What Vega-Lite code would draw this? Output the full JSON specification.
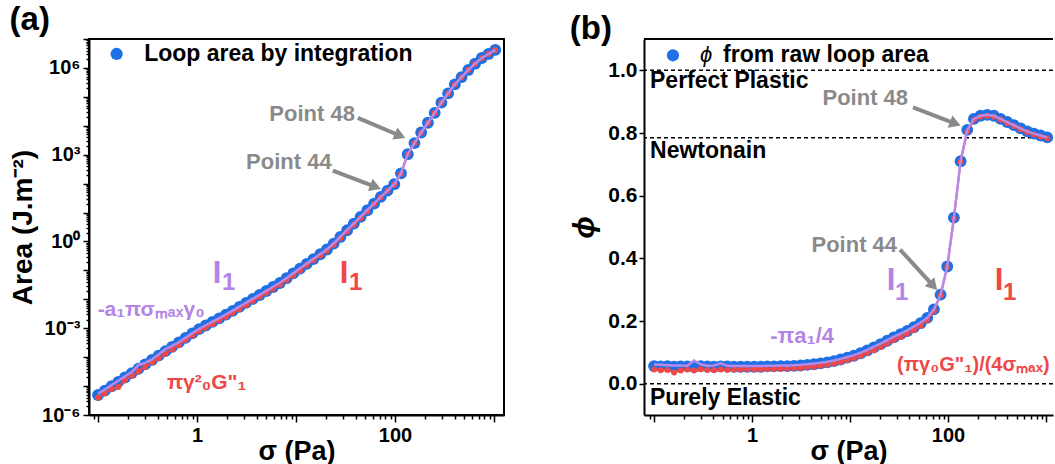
{
 "$schema": "https://vega.github.io/schema/vega-lite/v6.json",
 "padding": {"left": 8, "top": 3, "right": 0, "bottom": 0},
 "background": "white",
 "spacing": 64,
 "config": {
  "font": "Liberation Sans",
  "view": {"stroke": "black", "strokeWidth": 2},
  "axis": {"grid": false, "domainColor": "black", "domainWidth": 2, "tickColor": "black", "tickWidth": 1.5, "labelFontSize": 20, "labelFontWeight": "bold", "labelColor": "black", "titleFontSize": 28, "titleFontWeight": "bold", "titleColor": "black", "labelOverlap": false, "labelFlush": false, "labelBound": false},
  "title": {"fontSize": 33, "fontWeight": "bold", "color": "black", "anchor": "start", "frame": "bounds", "offset": -8}
 },
 "datasets": {
  "d": [
   {"s":0.100,"A":4.90e-6,"Ag":3.98e-6,"Af":5.37e-6,"p":0.056,"pg":0.045,"pf":0.061},
   {"s":0.117,"A":6.95e-6,"Ag":5.65e-6,"Af":7.62e-6,"p":0.055,"pg":0.043,"pf":0.060},
   {"s":0.137,"A":9.84e-6,"Ag":8.00e-6,"Af":1.08e-5,"p":0.056,"pg":0.044,"pf":0.059},
   {"s":0.160,"A":1.40e-5,"Ag":9.24e-6,"Af":1.53e-5,"p":0.054,"pg":0.036,"pf":0.058},
   {"s":0.187,"A":1.98e-5,"Ag":1.61e-5,"Af":2.17e-5,"p":0.055,"pg":0.042,"pf":0.058},
   {"s":0.219,"A":2.81e-5,"Ag":2.28e-5,"Af":3.08e-5,"p":0.055,"pg":0.045,"pf":0.057},
   {"s":0.256,"A":3.98e-5,"Ag":3.24e-5,"Af":5.37e-5,"p":0.054,"pg":0.042,"pf":0.074},
   {"s":0.299,"A":5.65e-5,"Ag":4.59e-5,"Af":6.34e-5,"p":0.056,"pg":0.046,"pf":0.062},
   {"s":0.350,"A":8.00e-5,"Ag":6.50e-5,"Af":8.38e-5,"p":0.055,"pg":0.044,"pf":0.057},
   {"s":0.409,"A":1.135e-4,"Ag":9.23e-5,"Af":1.244e-4,"p":0.054,"pg":0.043,"pf":0.058},
   {"s":0.479,"A":1.61e-4,"Ag":1.31e-4,"Af":1.89e-4,"p":0.055,"pg":0.045,"pf":0.065},
   {"s":0.560,"A":2.28e-4,"Ag":1.85e-4,"Af":2.44e-4,"p":0.055,"pg":0.044,"pf":0.057},
   {"s":0.655,"A":3.24e-4,"Ag":2.63e-4,"Af":3.31e-4,"p":0.054,"pg":0.045,"pf":0.056},
   {"s":0.766,"A":4.63e-4,"Ag":3.94e-4,"Af":4.74e-4,"p":0.054,"pg":0.045,"pf":0.056},
   {"s":0.895,"A":6.62e-4,"Ag":5.63e-4,"Af":6.77e-4,"p":0.054,"pg":0.046,"pf":0.056},
   {"s":1.047,"A":9.27e-4,"Ag":7.89e-4,"Af":9.48e-4,"p":0.054,"pg":0.046,"pf":0.056},
   {"s":1.225,"A":1.24e-3,"Ag":1.06e-3,"Af":1.27e-3,"p":0.054,"pg":0.046,"pf":0.056},
   {"s":1.432,"A":1.65e-3,"Ag":1.40e-3,"Af":1.69e-3,"p":0.055,"pg":0.047,"pf":0.057},
   {"s":1.675,"A":2.20e-3,"Ag":1.87e-3,"Af":2.25e-3,"p":0.055,"pg":0.047,"pf":0.057},
   {"s":1.959,"A":2.94e-3,"Ag":2.50e-3,"Af":3.01e-3,"p":0.056,"pg":0.048,"pf":0.058},
   {"s":2.291,"A":3.99e-3,"Ag":3.40e-3,"Af":4.08e-3,"p":0.056,"pg":0.048,"pf":0.058},
   {"s":2.679,"A":5.47e-3,"Ag":4.65e-3,"Af":5.60e-3,"p":0.057,"pg":0.049,"pf":0.059},
   {"s":3.133,"A":7.52e-3,"Ag":6.40e-3,"Af":7.69e-3,"p":0.058,"pg":0.050,"pf":0.060},
   {"s":3.664,"A":1.03e-2,"Ag":8.97e-3,"Af":1.054e-2,"p":0.060,"pg":0.052,"pf":0.062},
   {"s":4.285,"A":1.41e-2,"Ag":1.23e-2,"Af":1.44e-2,"p":0.062,"pg":0.054,"pf":0.064},
   {"s":5.012,"A":1.94e-2,"Ag":1.69e-2,"Af":1.98e-2,"p":0.065,"pg":0.057,"pf":0.067},
   {"s":5.861,"A":2.66e-2,"Ag":2.32e-2,"Af":2.72e-2,"p":0.068,"pg":0.060,"pf":0.070},
   {"s":6.855,"A":3.67e-2,"Ag":3.20e-2,"Af":3.75e-2,"p":0.072,"pg":0.064,"pf":0.074},
   {"s":8.017,"A":5.37e-2,"Ag":4.68e-2,"Af":5.49e-2,"p":0.077,"pg":0.069,"pf":0.079},
   {"s":9.376,"A":7.85e-2,"Ag":6.84e-2,"Af":8.03e-2,"p":0.083,"pg":0.075,"pf":0.085},
   {"s":10.96,"A":0.115,"Ag":0.100,"Af":0.118,"p":0.089,"pg":0.081,"pf":0.091},
   {"s":12.82,"A":0.168,"Ag":0.153,"Af":0.172,"p":0.097,"pg":0.089,"pf":0.099},
   {"s":15.00,"A":0.246,"Ag":0.224,"Af":0.252,"p":0.106,"pg":0.098,"pf":0.108},
   {"s":17.54,"A":0.361,"Ag":0.329,"Af":0.369,"p":0.116,"pg":0.107,"pf":0.118},
   {"s":20.51,"A":0.527,"Ag":0.481,"Af":0.539,"p":0.126,"pg":0.117,"pf":0.128},
   {"s":23.99,"A":0.843,"Ag":0.769,"Af":0.862,"p":0.137,"pg":0.128,"pf":0.139},
   {"s":28.05,"A":1.432,"Ag":1.306,"Af":1.465,"p":0.148,"pg":0.139,"pf":0.150},
   {"s":32.81,"A":2.438,"Ag":2.22,"Af":2.494,"p":0.158,"pg":0.149,"pf":0.160},
   {"s":38.37,"A":4.14,"Ag":3.78,"Af":4.235,"p":0.168,"pg":0.159,"pf":0.170},
   {"s":44.87,"A":7.047,"Ag":6.43,"Af":7.21,"p":0.180,"pg":0.171,"pf":0.182},
   {"s":52.48,"A":12.0,"Ag":10.9,"Af":12.3,"p":0.193,"pg":0.185,"pf":0.195},
   {"s":61.38,"A":20.4,"Ag":19.9,"Af":20.4,"p":0.210,"pg":0.203,"pf":0.210},
   {"s":71.78,"A":34.7,"Ag":33.9,"Af":34.7,"p":0.237,"pg":0.232,"pf":0.237},
   {"s":83.95,"A":57.5,"Ag":56.2,"Af":57.5,"p":0.284,"pg":0.282,"pf":0.284},
   {"s":98.17,"A":95.5,"Ag":93.3,"Af":95.5,"p":0.374,"pg":0.372,"pf":0.374},
   {"s":114.8,"A":226,"Ag":221,"Af":226,"p":0.530,"pg":0.528,"pf":0.530},
   {"s":134.3,"A":1040,"Ag":1016,"Af":1040,"p":0.710,"pg":0.708,"pf":0.710},
   {"s":157.0,"A":2512,"Ag":2490,"Af":2512,"p":0.810,"pg":0.805,"pf":0.810},
   {"s":183.7,"A":5848,"Ag":5790,"Af":5848,"p":0.845,"pg":0.842,"pf":0.845},
   {"s":214.8,"A":12680,"Ag":12550,"Af":12680,"p":0.855,"pg":0.852,"pf":0.855},
   {"s":251.2,"A":28050,"Ag":27770,"Af":28050,"p":0.858,"pg":0.855,"pf":0.858},
   {"s":293.8,"A":62810,"Ag":62180,"Af":62810,"p":0.855,"pg":0.852,"pf":0.855},
   {"s":343.6,"A":132400,"Ag":131100,"Af":132400,"p":0.845,"pg":0.842,"pf":0.845},
   {"s":401.8,"A":270400,"Ag":267700,"Af":270400,"p":0.835,"pg":0.832,"pf":0.835},
   {"s":469.9,"A":483100,"Ag":478300,"Af":483100,"p":0.825,"pg":0.822,"pf":0.825},
   {"s":549.5,"A":851100,"Ag":842600,"Af":851100,"p":0.815,"pg":0.812,"pf":0.815},
   {"s":642.7,"A":1400000,"Ag":1386000,"Af":1400000,"p":0.805,"pg":0.802,"pf":0.805},
   {"s":751.6,"A":2200000,"Ag":2180000,"Af":2200000,"p":0.798,"pg":0.795,"pf":0.798},
   {"s":879.0,"A":3040000,"Ag":3010000,"Af":3040000,"p":0.792,"pg":0.789,"pf":0.792},
   {"s":1028,"A":4200000,"Ag":4160000,"Af":4200000,"p":0.786,"pg":0.783,"pf":0.786}
  ]
 },
 "hconcat": [
  {
   "width": 415,
   "height": 376,
   "title": {"text": "(a)"},
   "layer": [
    {
     "data": {"name": "d"},
     "mark": {"type": "point", "filled": true, "size": 140, "color": "#1f6fe5", "opacity": 1, "strokeWidth": 0},
     "encoding": {
      "x": {"field": "s", "type": "quantitative", "title": "σ (Pa)",
       "scale": {"type": "log", "domain": [0.081, 1260], "nice": false},
       "axis": {"values": [0.09,0.1,0.2,0.3,0.4,0.5,0.6,0.7,0.8,0.9,1,2,3,4,5,6,7,8,9,10,20,30,40,50,60,70,80,90,100,200,300,400,500,600,700,800,900,1000],
        "labelExpr": "datum.value==1?'1':datum.value==100?'100':''",
        "tickSize": {"condition": {"test": "abs(log(datum.value)/LN10-round(log(datum.value)/LN10))<0.000001", "value": 7}, "value": 4},
        "labelPadding": 3, "titlePadding": -7, "titleFontSize": 27}},
      "y": {"field": "A", "type": "quantitative", "title": "Area (J.m⁻²)",
       "scale": {"type": "log", "domain": [0.000001, 10000000], "nice": false},
       "axis": {"values": [1e-6,2e-6,3e-6,4e-6,5e-6,6e-6,7e-6,8e-6,9e-6,1e-5,2e-5,3e-5,4e-5,5e-5,6e-5,7e-5,8e-5,9e-5,1e-4,2e-4,3e-4,4e-4,5e-4,6e-4,7e-4,8e-4,9e-4,0.001,0.002,0.003,0.004,0.005,0.006,0.007,0.008,0.009,0.01,0.02,0.03,0.04,0.05,0.06,0.07,0.08,0.09,0.1,0.2,0.3,0.4,0.5,0.6,0.7,0.8,0.9,1,2,3,4,5,6,7,8,9,10,20,30,40,50,60,70,80,90,100,200,300,400,500,600,700,800,900,1000,2000,3000,4000,5000,6000,7000,8000,9000,10000,20000,30000,40000,50000,60000,70000,80000,90000,100000,200000,300000,400000,500000,600000,700000,800000,900000,1000000,2000000,3000000,4000000,5000000,6000000,7000000,8000000,9000000,10000000],
        "labelExpr": "datum.value==1e-6?'10⁻⁶':datum.value==1e-3?'10⁻³':datum.value==1?'10⁰':datum.value==1000?'10³':datum.value==1000000?'10⁶':''",
        "tickSize": {"condition": {"test": "abs(log(datum.value)/LN10-round(log(datum.value)/LN10))<0.000001", "value": 6}, "value": 3},
        "labelPadding": 3, "titlePadding": 4}}
     }
    },
    {
     "data": {"name": "d"},
     "mark": {"type": "line", "color": "#ef4848", "strokeWidth": 2},
     "encoding": {"x": {"field": "s", "type": "quantitative"}, "y": {"field": "Ag", "type": "quantitative"}}
    },
    {
     "data": {"name": "d"},
     "mark": {"type": "point", "filled": true, "size": 36, "color": "#ef4848", "opacity": 1, "strokeWidth": 0},
     "encoding": {"x": {"field": "s", "type": "quantitative"}, "y": {"field": "Ag", "type": "quantitative"}}
    },
    {
     "data": {"name": "d"},
     "mark": {"type": "line", "color": "#b88ae8", "strokeWidth": 2.5},
     "encoding": {"x": {"field": "s", "type": "quantitative"}, "y": {"field": "Af", "type": "quantitative"}}
    },
    {
     "data": {"values": [{"s": 42.1, "A": 18880, "s2": 112.4, "A2": 4520}, {"s": 23.5, "A": 281, "s2": 63.5, "A2": 76.9}]},
     "mark": {"type": "rule", "color": "#8a8a8a", "strokeWidth": 4},
     "encoding": {"x": {"field": "s", "type": "quantitative"}, "y": {"field": "A", "type": "quantitative"}, "x2": {"field": "s2"}, "y2": {"field": "A2"}}
    },
    {
     "data": {"values": [{"s": 112.4, "A": 4520, "ang": 23}, {"s": 63.5, "A": 76.9, "ang": 21}]},
     "mark": {"type": "point", "shape": "triangle-right", "filled": true, "size": 170, "color": "#8a8a8a", "opacity": 1, "strokeWidth": 0},
     "encoding": {"x": {"field": "s", "type": "quantitative"}, "y": {"field": "A", "type": "quantitative"}, "angle": {"field": "ang", "type": "quantitative", "scale": null}}
    },
    {
     "data": {"values": [{"s": 39.3, "A": 25900, "t": "Point 48"}, {"s": 22.9, "A": 574, "t": "Point 44"}]},
     "mark": {"type": "text", "align": "right", "baseline": "middle", "fontSize": 22, "fontWeight": "bold", "color": "#8a8a8a"},
     "encoding": {"x": {"field": "s", "type": "quantitative"}, "y": {"field": "A", "type": "quantitative"}, "text": {"field": "t"}}
    },
    {
     "data": {"values": [{"s": 0.154, "A": 3040000}]},
     "mark": {"type": "point", "filled": true, "size": 150, "color": "#1f6fe5", "opacity": 1, "strokeWidth": 0},
     "encoding": {"x": {"field": "s", "type": "quantitative"}, "y": {"field": "A", "type": "quantitative"}}
    },
    {
     "data": {"values": [{"s": 0.292, "A": 3040000, "t": "Loop area by integration"}]},
     "mark": {"type": "text", "align": "left", "baseline": "middle", "fontSize": 23, "fontWeight": "bold", "color": "black"},
     "encoding": {"x": {"field": "s", "type": "quantitative"}, "y": {"field": "A", "type": "quantitative"}, "text": {"field": "t"}}
    },
    {
     "data": {"values": [{"s": 1.59, "A": 0.0728, "t": "I", "c": "p"}, {"s": 30.5, "A": 0.0728, "t": "I", "c": "r"}]},
     "mark": {"type": "text", "align": "center", "baseline": "middle", "fontSize": 31, "fontWeight": "bold"},
     "encoding": {"x": {"field": "s", "type": "quantitative"}, "y": {"field": "A", "type": "quantitative"}, "text": {"field": "t"},
      "color": {"field": "c", "type": "nominal", "scale": {"domain": ["p", "r"], "range": ["#b385e6", "#ef4848"]}, "legend": null}}
    },
    {
     "data": {"values": [{"s": 1.79, "A": 0.0356, "t": "1", "c": "p"}, {"s": 34.3, "A": 0.0356, "t": "1", "c": "r"}]},
     "mark": {"type": "text", "align": "left", "baseline": "middle", "fontSize": 24, "fontWeight": "bold"},
     "encoding": {"x": {"field": "s", "type": "quantitative"}, "y": {"field": "A", "type": "quantitative"}, "text": {"field": "t"},
      "color": {"field": "c", "type": "nominal", "scale": {"domain": ["p", "r"], "range": ["#b385e6", "#ef4848"]}, "legend": null}}
    },
    {
     "data": {"values": [{"s": 0.099, "A": 0.00418, "t": "-a₁πσₘₐₓγ₀"}]},
     "mark": {"type": "text", "align": "left", "baseline": "middle", "fontSize": 21, "fontWeight": "bold", "color": "#b385e6"},
     "encoding": {"x": {"field": "s", "type": "quantitative"}, "y": {"field": "A", "type": "quantitative"}, "text": {"field": "t"}}
    },
    {
     "data": {"values": [{"s": 0.496, "A": 0.0000127, "t": "πγ²₀G\"₁"}]},
     "mark": {"type": "text", "align": "left", "baseline": "middle", "fontSize": 21, "fontWeight": "bold", "color": "#ef4848"},
     "encoding": {"x": {"field": "s", "type": "quantitative"}, "y": {"field": "A", "type": "quantitative"}, "text": {"field": "t"}}
    }
   ]
  },
  {
   "width": 409,
   "height": 376,
   "title": {"text": "(b)"},
   "view": {"stroke": null},
   "layer": [
    {
     "data": {"values": [{"p": 1.0}, {"p": 0.785}, {"p": 0}]},
     "mark": {"type": "rule", "strokeDash": [4, 3], "strokeWidth": 1.5, "color": "black"},
     "encoding": {"y": {"field": "p", "type": "quantitative"}}
    },
    {
     "data": {"values": [{"p": 1.1}]},
     "mark": {"type": "rule", "strokeWidth": 2, "color": "black"},
     "encoding": {"y": {"field": "p", "type": "quantitative"}}
    },
    {
     "data": {"name": "d"},
     "mark": {"type": "point", "filled": true, "size": 140, "color": "#1f6fe5", "opacity": 1, "strokeWidth": 0},
     "encoding": {
      "x": {"field": "s", "type": "quantitative", "title": "σ (Pa)",
       "scale": {"type": "log", "domain": [0.079, 1178], "nice": false},
       "axis": {"values": [0.09,0.1,0.2,0.3,0.4,0.5,0.6,0.7,0.8,0.9,1,2,3,4,5,6,7,8,9,10,20,30,40,50,60,70,80,90,100,200,300,400,500,600,700,800,900,1000],
        "labelExpr": "datum.value==1?'1':datum.value==100?'100':''",
        "tickSize": {"condition": {"test": "abs(log(datum.value)/LN10-round(log(datum.value)/LN10))<0.000001", "value": 7}, "value": 4},
        "labelPadding": 3, "titlePadding": -7, "titleFontSize": 27}},
      "y": {"field": "p", "type": "quantitative", "title": "ϕ",
       "scale": {"domain": [-0.1, 1.1], "nice": false, "zero": false},
       "axis": {"values": [0,0.1,0.2,0.3,0.4,0.5,0.6,0.7,0.8,0.9,1.0],
        "labelExpr": "round(datum.value*10)%2==0?format(datum.value,'.1f'):''",
        "tickSize": {"condition": {"test": "round(datum.value*10)%2==0", "value": 5}, "value": 3},
        "labelPadding": 2, "labelFontSize": 21, "titlePadding": 8, "titleFontStyle": "italic", "titleFontSize": 30}}
     }
    },
    {
     "data": {"name": "d"},
     "mark": {"type": "line", "color": "#ef4848", "strokeWidth": 2},
     "encoding": {"x": {"field": "s", "type": "quantitative"}, "y": {"field": "pg", "type": "quantitative"}}
    },
    {
     "data": {"name": "d"},
     "mark": {"type": "point", "filled": true, "size": 36, "color": "#ef4848", "opacity": 1, "strokeWidth": 0},
     "encoding": {"x": {"field": "s", "type": "quantitative"}, "y": {"field": "pg", "type": "quantitative"}}
    },
    {
     "data": {"name": "d"},
     "mark": {"type": "line", "color": "#b88ae8", "strokeWidth": 2.5},
     "encoding": {"x": {"field": "s", "type": "quantitative"}, "y": {"field": "pf", "type": "quantitative"}}
    },
    {
     "data": {"values": [{"s": 43.9, "p": 0.882, "s2": 118.7, "p2": 0.830}, {"s": 32.4, "p": 0.428, "s2": 70.8, "p2": 0.312}]},
     "mark": {"type": "rule", "color": "#8a8a8a", "strokeWidth": 4},
     "encoding": {"x": {"field": "s", "type": "quantitative"}, "y": {"field": "p", "type": "quantitative"}, "x2": {"field": "s2"}, "y2": {"field": "p2"}}
    },
    {
     "data": {"values": [{"s": 118.7, "p": 0.830, "ang": 21}, {"s": 70.8, "p": 0.312, "ang": 47.5}]},
     "mark": {"type": "point", "shape": "triangle-right", "filled": true, "size": 170, "color": "#8a8a8a", "opacity": 1, "strokeWidth": 0},
     "encoding": {"x": {"field": "s", "type": "quantitative"}, "y": {"field": "p", "type": "quantitative"}, "angle": {"field": "ang", "type": "quantitative", "scale": null}}
    },
    {
     "data": {"values": [{"s": 39.1, "p": 0.911, "t": "Point 48"}, {"s": 30.2, "p": 0.444, "t": "Point 44"}]},
     "mark": {"type": "text", "align": "right", "baseline": "middle", "fontSize": 22, "fontWeight": "bold", "color": "#8a8a8a"},
     "encoding": {"x": {"field": "s", "type": "quantitative"}, "y": {"field": "p", "type": "quantitative"}, "text": {"field": "t"}}
    },
    {
     "data": {"values": [{"s": 0.091, "p": 0.965, "t": "Perfect Plastic"}, {"s": 0.091, "p": 0.744, "t": "Newtonain"}, {"s": 0.091, "p": -0.045, "t": "Purely Elastic"}, {"s": 0.506, "p": 1.048, "t": "from raw loop area"}]},
     "mark": {"type": "text", "align": "left", "baseline": "middle", "fontSize": 23, "fontWeight": "bold", "color": "black"},
     "encoding": {"x": {"field": "s", "type": "quantitative"}, "y": {"field": "p", "type": "quantitative"}, "text": {"field": "t"}}
    },
    {
     "data": {"values": [{"s": 0.294, "p": 1.048, "t": "ϕ"}]},
     "mark": {"type": "text", "align": "left", "baseline": "middle", "fontSize": 22, "fontStyle": "italic", "color": "black"},
     "encoding": {"x": {"field": "s", "type": "quantitative"}, "y": {"field": "p", "type": "quantitative"}, "text": {"field": "t"}}
    },
    {
     "data": {"values": [{"s": 0.156, "p": 1.048}]},
     "mark": {"type": "point", "filled": true, "size": 150, "color": "#1f6fe5", "opacity": 1, "strokeWidth": 0},
     "encoding": {"x": {"field": "s", "type": "quantitative"}, "y": {"field": "p", "type": "quantitative"}}
    },
    {
     "data": {"values": [{"s": 26.2, "p": 0.329, "t": "I", "c": "p"}, {"s": 331, "p": 0.329, "t": "I", "c": "r"}]},
     "mark": {"type": "text", "align": "center", "baseline": "middle", "fontSize": 31, "fontWeight": "bold"},
     "encoding": {"x": {"field": "s", "type": "quantitative"}, "y": {"field": "p", "type": "quantitative"}, "text": {"field": "t"},
      "color": {"field": "c", "type": "nominal", "scale": {"domain": ["p", "r"], "range": ["#b385e6", "#ef4848"]}, "legend": null}}
    },
    {
     "data": {"values": [{"s": 28.8, "p": 0.288, "t": "1", "c": "p"}, {"s": 364, "p": 0.288, "t": "1", "c": "r"}]},
     "mark": {"type": "text", "align": "left", "baseline": "middle", "fontSize": 24, "fontWeight": "bold"},
     "encoding": {"x": {"field": "s", "type": "quantitative"}, "y": {"field": "p", "type": "quantitative"}, "text": {"field": "t"},
      "color": {"field": "c", "type": "nominal", "scale": {"domain": ["p", "r"], "range": ["#b385e6", "#ef4848"]}, "legend": null}}
    },
    {
     "data": {"values": [{"s": 1.53, "p": 0.153, "t": "-πa₁/4"}]},
     "mark": {"type": "text", "align": "left", "baseline": "middle", "fontSize": 22, "fontWeight": "bold", "color": "#b385e6"},
     "encoding": {"x": {"field": "s", "type": "quantitative"}, "y": {"field": "p", "type": "quantitative"}, "text": {"field": "t"}}
    },
    {
     "data": {"values": [{"s": 30.2, "p": 0.061, "t": "(πγ₀G\"₁)/(4σₘₐₓ)"}]},
     "mark": {"type": "text", "align": "left", "baseline": "middle", "fontSize": 20, "fontWeight": "bold", "color": "#ef4848"},
     "encoding": {"x": {"field": "s", "type": "quantitative"}, "y": {"field": "p", "type": "quantitative"}, "text": {"field": "t"}}
    }
   ]
  }
 ]
}
